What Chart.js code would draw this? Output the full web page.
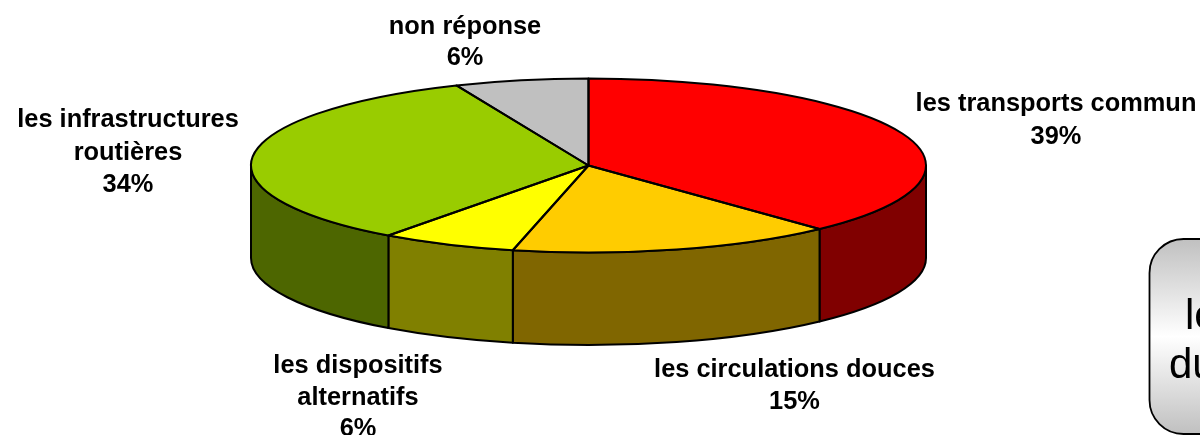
<!DOCTYPE html>
<html lang="fr">
<head>
<meta charset="utf-8">
<title>Camembert 3D</title>
<script src="https://cdn.jsdelivr.net/npm/chart.js@4/dist/chart.umd.min.js"></script>
<style>
    html, body { margin: 0; padding: 0; background: #fff; overflow: hidden; }
    #wrap { width: 1200px; height: 435px; }
</style>
</head>
<body>
<div id="wrap"><canvas id="pieChart" width="1200" height="435"></canvas></div>
<script>
// Chart data (slice sizes, percents as printed on it)
const categories = ['les transports commun', 'les circulations douces', 'les dispositifs alternatifs', 'les infrastructures routières', 'non réponse'];
const sliceValues = [38.0, 15.6, 6.5, 33.5, 6.4];
const printedPercents = ['39%', '15%', '6%', '34%', '6%'];
const topColors = ['#ff0000', '#ffcc00', '#ffff00', '#99cc00', '#c0c0c0'];
const wallColors = ['#800000', '#806600', '#808000', '#4d6600', '#606060'];

// Label lines and where they sit on the page
const labelLines = [
    ['les transports commun', printedPercents[0]],
    ['les circulations douces', printedPercents[1]],
    ['les dispositifs', 'alternatifs', printedPercents[2]],
    ['les infrastructures', 'routières', printedPercents[3]],
    ['non réponse', printedPercents[4]]
];
const labelAnchors = [
    { x: 1056, y: 111, step: 33 },
    { x: 794.5, y: 377, step: 32 },
    { x: 358, y: 373, step: 31.5 },
    { x: 128, y: 127, step: 32.5 },
    { x: 465, y: 34, step: 31 }
];

// Pie geometry on the page
const centerX = 588.5;
const centerY = 165.5;
const radiusX = 337.5;
const radiusY = 87;
const wallDepth = 92.5;
const outlineWidth = 2;

function pieTransform(ctx, arc) {
    ctx.translate(centerX, centerY);
    ctx.scale(1, radiusY / radiusX);
    ctx.translate(-arc.x, -arc.y);
}

// 3D walls, drawn before the slices
function drawWalls(chart) {
    const ctx = chart.ctx;
    const arcs = chart.getDatasetMeta(0).data;
    arcs.forEach(function (arc, i) {
        const from = Math.max(arc.startAngle, 0);
        const to = Math.min(arc.endAngle, Math.PI);
        if (from >= to) return;
        ctx.save();
        ctx.beginPath();
        ctx.ellipse(centerX, centerY, radiusX, radiusY, 0, from, to);
        ctx.ellipse(centerX, centerY + wallDepth, radiusX, radiusY, 0, to, from, true);
        ctx.closePath();
        ctx.fillStyle = wallColors[i];
        ctx.fill();
        ctx.lineWidth = outlineWidth;
        ctx.strokeStyle = '#000';
        ctx.lineJoin = 'round';
        ctx.stroke();
        ctx.restore();
    });
}

// Slice outlines, stroked after the transform so the width stays even
function drawOutlines(chart) {
    const ctx = chart.ctx;
    const arcs = chart.getDatasetMeta(0).data;
    arcs.forEach(function (arc) {
        ctx.save();
        ctx.beginPath();
        ctx.moveTo(centerX, centerY);
        ctx.ellipse(centerX, centerY, radiusX, radiusY, 0, arc.startAngle, arc.endAngle);
        ctx.closePath();
        ctx.lineWidth = outlineWidth;
        ctx.strokeStyle = '#000';
        ctx.lineJoin = 'round';
        ctx.stroke();
        ctx.restore();
    });
}

function drawLabels(chart) {
    const ctx = chart.ctx;
    ctx.save();
    ctx.font = 'bold 25.4px "Liberation Sans", Arial, sans-serif';
    ctx.fillStyle = '#000';
    ctx.textAlign = 'center';
    ctx.textBaseline = 'alphabetic';
    labelLines.forEach(function (lines, i) {
        const a = labelAnchors[i];
        lines.forEach(function (line, n) {
            ctx.fillText(line, a.x, a.y + n * a.step);
        });
    });
    ctx.restore();
}

// Rounded note box, cut by the right edge of the page
function drawNote(chart) {
    const ctx = chart.ctx;
    const top = 239;
    const bottom = 434;
    ctx.save();
    const grad = ctx.createLinearGradient(0, top, 0, bottom);
    grad.addColorStop(0, '#c0c0c0');
    grad.addColorStop(0.5, '#ffffff');
    grad.addColorStop(1, '#c0c0c0');
    ctx.beginPath();
    ctx.roundRect(1149.5, top, 120, bottom - top, 34);
    ctx.fillStyle = grad;
    ctx.fill();
    ctx.lineWidth = 1.8;
    ctx.strokeStyle = '#000';
    ctx.stroke();
    ctx.fillStyle = '#000';
    ctx.font = '42px "Liberation Sans", Arial, sans-serif';
    ctx.textAlign = 'left';
    ctx.fillText('le', 1185, 329);
    ctx.fillText('du', 1169, 378);
    ctx.restore();
}

const pie3d = {
    id: 'pie3d',
    beforeDatasetsDraw: function (chart) {
        drawWalls(chart);
        chart.ctx.save();
        pieTransform(chart.ctx, chart.getDatasetMeta(0).data[0]);
    },
    afterDatasetsDraw: function (chart) {
        chart.ctx.restore();
        drawOutlines(chart);
    },
    afterDraw: function (chart) {
        drawLabels(chart);
        drawNote(chart);
    }
};

new Chart(document.getElementById('pieChart'), {
    type: 'pie',
    data: {
        labels: categories,
        datasets: [{
            data: sliceValues,
            backgroundColor: topColors,
            borderWidth: 0,
            clip: false
        }]
    },
    options: {
        responsive: false,
        animation: false,
        radius: radiusX,
        events: [],
        plugins: {
            legend: { display: false },
            tooltip: { enabled: false }
        }
    },
    plugins: [pie3d]
});
</script>
</body>
</html>
